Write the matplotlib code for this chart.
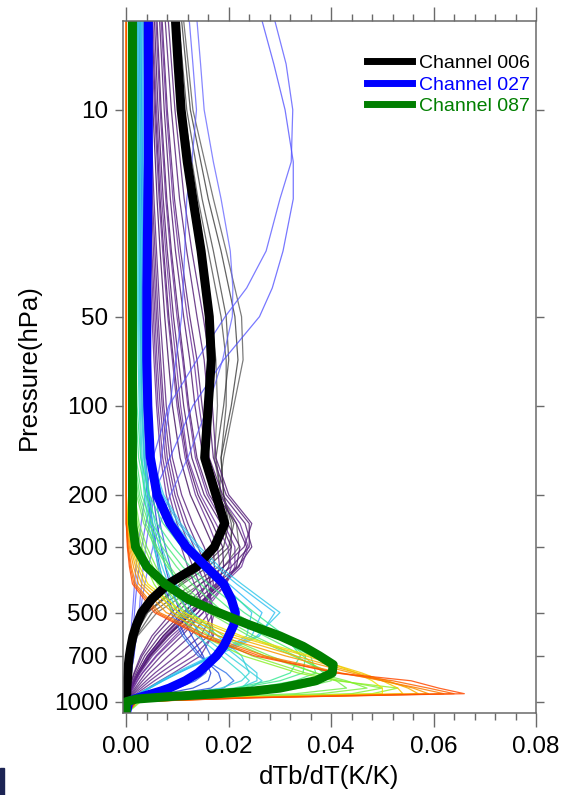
import matplotlib
matplotlib.use('Agg')
import matplotlib.pyplot as plt
from matplotlib.colors import LinearSegmentedColormap
from matplotlib.patches import Rectangle
from matplotlib.ticker import MultipleLocator, NullLocator
import numpy as np

plt.rcParams['font.family'] = ['Liberation Sans', 'DejaVu Sans']

# niveles de presion (hPa) de los canales finos
pres = [5, 10, 20, 30, 50, 70, 100, 150, 200, 250, 300, 350, 400,
        500, 600, 700, 800, 850, 900, 940, 970, 1000, 1100]

# niveles mas finos para los canales destacados y los estratosfericos
pres_fino = [5, 7, 10, 15, 20, 30, 40, 50, 70, 100, 150, 200, 250, 300, 350, 400,
             450, 500, 550, 600, 650, 700, 750, 800, 850, 900, 920, 940, 960, 980,
             1000, 1100]

# canales destacados
canales = ['Channel 006', 'Channel 027', 'Channel 087']
ch006 = [.0096, .0101, .0107, .0119, .013, .0146, .0155, .0162, .0166, .016, .0153, .0175,
         .0192, .0172, .0137, .0082, .005, .003, .002, .0013, .0009, .0006, .0004, .0003,
         .0002, .0001, .0001, .0001, 0, 0, 0, 0]
ch027 = [.0043, .0043, .0043, .0043, .0042, .0041, .004, .004, .004, .0042, .0047, .006,
         .0085, .0117, .0156, .019, .0205, .0213, .021, .020, .019, .0176, .0158, .014,
         .0115, .0084, .0068, .005, .0032, .0015, .0005, 0]
ch087 = [.0012, .0012, .0012, .0012, .0012, .0012, .0012, .0012, .0012, .0012, .0012, .0012,
         .0012, .0018, .004, .0075, .012, .018, .024, .030, .0345, .0377, .0404, .0402,
         .037, .030, .025, .018, .009, .002, 0, 0]

# resto de canales, por grupos
gris = [
    [.0108, .0125, .016, .0185, .0212, .0218, .0205, .0185, .019, .020, .019, .015, .0105, .004, .0015, .0006, .0003, .0002, .0001, .0001, 0, 0, 0],
    [.0102, .0118, .0148, .017, .0195, .020, .019, .0175, .0185, .021, .020, .016, .011, .0042, .0016, .0007, .0003, .0002, .0001, .0001, 0, 0, 0],
    [.0098, .0112, .014, .016, .0185, .0195, .0195, .0185, .019, .0205, .0205, .018, .013, .005, .002, .0008, .0004, .0002, .0001, .0001, 0, 0, 0],
    [.0112, .013, .017, .0195, .0225, .0228, .021, .019, .018, .0185, .017, .013, .0085, .0032, .0013, .0005, .0002, .0001, .0001, 0, 0, 0, 0],
    [.0092, .0105, .0128, .0145, .0165, .0175, .0178, .0172, .0185, .0215, .022, .019, .0145, .006, .0022, .0009, .0004, .0002, .0001, .0001, 0, 0, 0],
]

morados = [
    [.0046, .0052, .006, .0066, .0075, .0082, .009, .0105, .0125, .0150, .0170, .0172, .0160, .0115, .0072, .0042, .0022, .0015, .0009, .0005, .0002, 0, 0],
    [.005, .0057, .0066, .0073, .0083, .0092, .0102, .0118, .0140, .0168, .0188, .0190, .0178, .0130, .0082, .0048, .0026, .0018, .0011, .0006, .0003, 0, 0],
    [.0055, .0062, .0072, .008, .0092, .0102, .0112, .0128, .0152, .0185, .0205, .0200, .0182, .0128, .0078, .0045, .0024, .0016, .0010, .0005, .0002, 0, 0],
    [.006, .0068, .0079, .0088, .0102, .0112, .0122, .0138, .0162, .0198, .0222, .0215, .0190, .0130, .0080, .0046, .0024, .0016, .001, .0005, .0002, 0, 0],
    [.0065, .0074, .0086, .0096, .0112, .0124, .0134, .0150, .0176, .0215, .0235, .0220, .0185, .0120, .0072, .0041, .0022, .0015, .0009, .0005, .0002, 0, 0],
    [.007, .008, .0094, .0106, .0124, .0138, .0148, .0162, .0188, .0232, .0245, .0218, .0175, .0110, .0065, .0036, .0019, .0013, .0008, .0004, .0002, 0, 0],
    [.0076, .0088, .0104, .0118, .0138, .0152, .0160, .0170, .0195, .0240, .0240, .0205, .0160, .0098, .0056, .0031, .0016, .0011, .0007, .0004, .0001, 0, 0],
    [.0082, .0095, .0113, .0128, .0150, .0163, .0168, .0175, .0200, .0245, .0230, .0190, .0145, .0088, .0050, .0028, .0015, .0010, .0006, .0003, .0001, 0, 0],
    [.0042, .0047, .0054, .0059, .0066, .0072, .0078, .0090, .0108, .0130, .0152, .0165, .0170, .0150, .0108, .0068, .0038, .0027, .0017, .0009, .0004, .0001, 0],
    [.0040, .0045, .0051, .0056, .0062, .0067, .0073, .0085, .0100, .0120, .0140, .0155, .0165, .0162, .0125, .0082, .0046, .0032, .0020, .0011, .0005, .0001, 0],
    [.0038, .0043, .0049, .0053, .0059, .0064, .0070, .0080, .0095, .0113, .0132, .0148, .0160, .0170, .0145, .0098, .0056, .0039, .0024, .0013, .0006, .0001, 0],
    [.0036, .0041, .0046, .0050, .0056, .0060, .0066, .0076, .0090, .0106, .0124, .0140, .0153, .0172, .0160, .0115, .0066, .0046, .0029, .0015, .0007, .0001, 0],
    [.0035, .0039, .0044, .0048, .0053, .0057, .0062, .0071, .0084, .0099, .0115, .0130, .0143, .0165, .0170, .0132, .0078, .0055, .0035, .0019, .0008, .0002, 0],
    [.0033, .0037, .0042, .0045, .0050, .0054, .0059, .0067, .0078, .0092, .0107, .0120, .0133, .0155, .0168, .0145, .0092, .0066, .0042, .0023, .0010, .0002, 0],
    [.0048, .0055, .0064, .0071, .0081, .0090, .0099, .0115, .0135, .0160, .0178, .0182, .0175, .0140, .0095, .0058, .0031, .0021, .0013, .0007, .0003, 0, 0],
    [.0058, .0066, .0077, .0086, .0099, .0110, .0120, .0135, .0158, .0190, .0212, .0212, .0195, .0140, .0088, .0051, .0027, .0018, .0011, .0006, .0002, 0, 0],
    [.0068, .0078, .0091, .0102, .0119, .0132, .0142, .0157, .0182, .0222, .0238, .0225, .0190, .0125, .0076, .0043, .0023, .0015, .0009, .0005, .0002, 0, 0],
    [.0052, .0059, .0069, .0077, .0088, .0097, .0106, .0120, .0145, .0175, .0198, .0205, .0195, .0150, .0100, .0060, .0032, .0022, .0014, .0007, .0003, 0, 0],
]

# estos van sobre pres_fino
azules_estrat = [
    [.0265, .0288, .031, .0326, .0326, .0306, .0285, .026, .019, .013, .0085, .0052, .0038, .003, .0025, .0021,
     .0018, .0016, .0014, .0012, .001, .0009, .0007, .0006, .0004, .0003, .0002, .0002, .0001, .0001, 0, 0],
    [.029, .0312, .0325, .0322, .030, .0273, .0235, .0193, .0138, .0083, .0052, .0037, .0029, .0023, .0019, .0016,
     .0014, .0012, .001, .0009, .0008, .0007, .0006, .0005, .0003, .0002, .0001, .0001, 0, 0, 0, 0],
    [.0123, .013, .0137, .0128, .0118, .0114, .0111, .0108, .0097, .0085, .0068, .0055, .0045, .0038, .0033, .003,
     .0027, .0025, .0022, .002, .0017, .0015, .0012, .001, .0008, .0006, .0005, .0004, .0003, .0001, 0, 0],
    [.0138, .0145, .0152, .017, .0185, .0203, .0208, .0207, .0188, .016, .012, .0086, .0066, .0052, .0043, .0036,
     .0031, .0027, .0023, .002, .0017, .0015, .0012, .001, .0008, .0006, .0005, .0004, .0003, .0001, 0, 0],
]

azules = [
    [.0025, .0027, .003, .0032, .0035, .0037, .004, .0045, .0052, .006, .0068, .0076, .0085, .0105, .0128, .0150, .0165, .0160, .0130, .0075, .003, .0005, 0],
    [.0022, .0024, .0026, .0028, .003, .0032, .0034, .0038, .0044, .0051, .0058, .0065, .0073, .0092, .0115, .0145, .0180, .0185, .0165, .0100, .0040, .0006, 0],
    [.0028, .003, .0033, .0035, .0038, .004, .0043, .0049, .0057, .0066, .0076, .0086, .0096, .0120, .0145, .0165, .0155, .0135, .010, .0055, .0022, .0004, 0],
    [.002, .0022, .0024, .0025, .0027, .0029, .0031, .0035, .0041, .0048, .0055, .0062, .0070, .0088, .0110, .0140, .0195, .0210, .0190, .0120, .0045, .0007, 0],
]

cianes = [
    [.003, .003, .003, .003, .0031, .0033, .0036, .0046, .0066, .0096, .013, .0165, .020, .0265, .0245, .017, .010, .007, .0045, .0025, .0012, .0003, 0],
    [.0032, .0032, .0032, .0032, .0033, .0035, .0038, .0048, .007, .0102, .0138, .0175, .0215, .0290, .0260, .0175, .0102, .0072, .0046, .0025, .0012, .0003, 0],
    [.0028, .0028, .0028, .0028, .0029, .0031, .0034, .0043, .0062, .009, .0122, .0155, .0188, .0245, .0235, .017, .0102, .0072, .0046, .0025, .0012, .0003, 0],
    [.0034, .0034, .0034, .0034, .0035, .0037, .004, .005, .0073, .0106, .0143, .0182, .0225, .0300, .0255, .0165, .0095, .0067, .0043, .0023, .0011, .0003, 0],
    [.0025, .0025, .0025, .0025, .0026, .0027, .0029, .0034, .0042, .0052, .0064, .0077, .009, .012, .0165, .0215, .0255, .0255, .022, .0140, .0055, .0008, 0],
    [.0023, .0023, .0023, .0023, .0024, .0025, .0027, .0031, .0038, .0047, .0058, .007, .0082, .011, .0150, .0200, .0245, .0265, .0240, .0155, .0060, .0009, 0],
    [.0027, .0027, .0027, .0027, .0028, .0029, .0031, .0036, .0045, .0056, .0069, .0083, .0097, .013, .0178, .0225, .0240, .0225, .0185, .0115, .0045, .0007, 0],
    [.0021, .0021, .0021, .0021, .0022, .0023, .0025, .0029, .0035, .0043, .0053, .0064, .0075, .0100, .0138, .0185, .0225, .0240, .0225, .0150, .0060, .0009, 0],
]

verdes = [
    [.0018, .0018, .0018, .0018, .0018, .0019, .0021, .0028, .0045, .0072, .0108, .0145, .018, .025, .031, .034, .032, .028, .021, .012, .0045, .0007, 0],
    [.0015, .0015, .0015, .0015, .0015, .0016, .0018, .0024, .0038, .006, .0092, .0125, .016, .023, .030, .035, .0345, .030, .022, .013, .005, .0008, 0],
    [.0012, .0012, .0012, .0012, .0012, .0013, .0014, .0019, .003, .005, .008, .011, .0145, .021, .029, .036, .037, .033, .025, .015, .006, .001, 0],
    [.0010, .0010, .0010, .0010, .0010, .0011, .0012, .0016, .0026, .0043, .007, .0098, .0128, .019, .027, .0345, .0385, .036, .029, .018, .007, .001, 0],
    [.0009, .0009, .0009, .0009, .0009, .001, .0011, .0015, .0023, .0038, .006, .0085, .011, .017, .025, .033, .039, .0385, .032, .020, .008, .0011, 0],
    [.0008, .0008, .0008, .0008, .0008, .0009, .001, .0013, .002, .0034, .0056, .008, .0105, .016, .024, .0325, .040, .040, .034, .022, .009, .0012, 0],
    [.0007, .0007, .0007, .0007, .0007, .0007, .0008, .0011, .0016, .0025, .004, .0058, .0078, .0125, .019, .028, .037, .041, .043, .033, .013, .0018, 0],
    [.0006, .0006, .0006, .0006, .0006, .0006, .0007, .0009, .0014, .0022, .0035, .0052, .007, .0115, .018, .027, .037, .043, .047, .038, .016, .002, 0],
    [.0005, .0005, .0005, .0005, .0005, .0005, .0006, .0008, .0012, .0019, .003, .0045, .0061, .0102, .0162, .0245, .035, .042, .050, .044, .019, .0025, 0],
    [.0004, .0004, .0004, .0004, .0004, .0004, .0005, .0007, .0010, .0016, .0026, .0039, .0054, .0092, .0148, .0228, .0335, .041, .053, .048, .021, .0028, 0],
]

naranjas = [
    [0, 0, 0, 0, 0, 0, 0, 0, 0, .0003, .0012, .0026, .0042, .0112, .0225, .036, .045, .048, .050, .050, .019, .0018, 0],
    [0, 0, 0, 0, 0, 0, 0, 0, 0, .0002, .001, .0022, .0036, .0102, .0215, .035, .046, .050, .053, .054, .020, .002, 0],
    [0, 0, 0, 0, 0, 0, 0, 0, 0, .0001, .0008, .0018, .003, .009, .020, .033, .045, .051, .055, .057, .021, .002, 0],
    [0, 0, 0, 0, 0, 0, 0, 0, 0, 0, .0006, .0014, .0024, .0078, .018, .031, .044, .050, .056, .059, .022, .002, 0],
    [0, 0, 0, 0, 0, 0, 0, 0, 0, 0, .0004, .001, .0018, .0065, .016, .027, .042, .050, .057, .062, .024, .002, 0],
    [0, 0, 0, 0, 0, 0, 0, 0, 0, 0, .0003, .0008, .0015, .006, .015, .026, .041, .052, .059, .064, .025, .002, 0],
    [0, 0, 0, 0, 0, 0, 0, 0, 0, 0, .0002, .0006, .0012, .0055, .0145, .025, .041, .0556, .061, .066, .025, .002, 0],
]


def dibujar_grupo(ax, curvas, niveles, c0, c1, alpha=0.8, lw=0.9):
    cmap = LinearSegmentedColormap.from_list('grupo', [c0, c1])
    n = len(curvas)
    for i, xs in enumerate(curvas):
        ax.plot(xs, niveles, color=cmap(i / max(n - 1, 1)), lw=lw, alpha=alpha)


fig = plt.figure(figsize=(5.64, 7.95), dpi=100)
ax = fig.add_axes([0.2176, 0.1035, 0.7328, 0.8704])

dibujar_grupo(ax, gris, pres, '#202020', '#505050', alpha=0.7)
dibujar_grupo(ax, morados, pres, '#3c0a5a', '#6e2e9e')
dibujar_grupo(ax, azules_estrat, pres_fino, '#4a4aff', '#6060ff', alpha=0.75)
dibujar_grupo(ax, azules, pres, '#1838d8', '#2a70e8')
dibujar_grupo(ax, cianes, pres, '#28b8f8', '#30d8d0')
dibujar_grupo(ax, verdes, pres, '#30e890', '#88f020')
dibujar_grupo(ax, naranjas, pres, '#f0e000', '#ff4a00', alpha=0.85)

# canales destacados encima
ax.plot(ch006, pres_fino, color='black', lw=6.5, label=canales[0])
ax.plot(ch027, pres_fino, color='#0000ff', lw=6.5, label=canales[1])
ax.plot(ch087, pres_fino, color='#007f00', lw=6.5, label=canales[2])

ax.set_yscale('log')
ax.set_ylim(1090, 5)

yticks = [10, 50, 100, 200, 300, 500, 700, 1000]
ax.set_yticks(yticks)
ax.set_yticklabels([str(v) for v in yticks])
ax.yaxis.set_minor_locator(NullLocator())
ax.xaxis.set_major_locator(MultipleLocator(0.02))
ax.xaxis.set_minor_locator(MultipleLocator(0.004))
ax.set_xlim(-0.0007, 0.08)
ax.set_xticks([0, 0.02, 0.04, 0.06, 0.08])
ax.set_xticklabels(['0.00', '0.02', '0.04', '0.06', '0.08'])
ax.set_xlim(-0.0007, 0.08)

gris_marco = '#6a6a6a'
for s in ax.spines.values():
    s.set_color(gris_marco)
    s.set_linewidth(1.1)
ax.tick_params(axis='x', which='major', direction='out', length=10, width=1.0,
               color=gris_marco, top=True, labelsize=17.5, pad=7)
ax.tick_params(axis='x', which='minor', direction='out', length=5, width=1.0,
               color=gris_marco, top=True)
ax.tick_params(axis='y', which='major', direction='out', length=5.5, width=1.0,
               color=gris_marco, right=True, labelsize=17.5, pad=5)

ax.set_xlabel('dTb/dT(K/K)', fontsize=18.5, labelpad=5)
ax.set_ylabel('Pressure(hPa)', fontsize=18.5, labelpad=9)

leg = ax.legend(loc='upper right', bbox_to_anchor=(0.985, 0.951), frameon=False,
                fontsize=14, handlelength=2.3, handletextpad=0.35, labelspacing=0.19,
                borderaxespad=0, borderpad=0, labelcolor='linecolor')
for ln in leg.get_lines():
    ln.set_linewidth(5)

fig.patches.append(Rectangle((0, 0), 4 / 564, 27 / 795, transform=fig.transFigure,
                             color='#1c2454', figure=fig))

fig.savefig('out.png', dpi=100)
